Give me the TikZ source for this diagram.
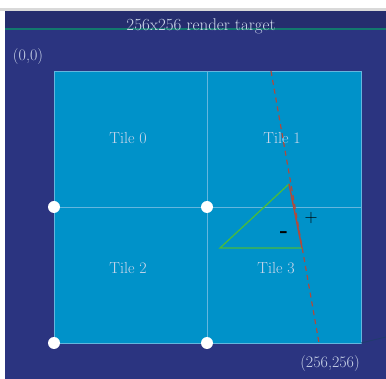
\documentclass[tikz,border=0pt]{standalone}
\usepackage{xcolor}
\definecolor{bgdark}{RGB}{43,52,128}
\definecolor{bgtop}{RGB}{37,45,110}
\definecolor{tileblue}{RGB}{0,146,201}
\definecolor{gridline}{RGB}{100,182,222}
\definecolor{tealline}{RGB}{18,120,110}
\definecolor{labeltext}{RGB}{205,215,235}
\definecolor{edgered}{RGB}{176,74,60}
\definecolor{trigreen}{RGB}{72,186,62}
\usepackage{tikz}
\usetikzlibrary{arrows.meta, positioning, calc}

\begin{document}
\begin{tikzpicture}[x=1pt, y=-1pt,
    corner/.style={circle, fill=white, inner sep=0pt, minimum size=12pt},
    tilelabel/.style={text=labeltext, font=\fontsize{16}{18}\selectfont},
    signlabel/.style={text=black, font=\fontsize{18}{20}\selectfont}]
    \useasboundingbox (0,0) rectangle (386,379);
    \fill[white] (0,0) rectangle (386,379);
    \fill[gray!30] (0,8) rectangle (386,11);
    \fill[bgdark] (5,11) rectangle (386,379);
    \fill[bgtop] (5,11) rectangle (386,29);
    % render target header
    \draw[tealline, line width=2pt] (5,29) -- (386,29);
    \node[tilelabel, font=\fontsize{17}{19}\selectfont] (title) at (201,26) {256x256 render target};
    \node[tilelabel] (origin) at (28,57) {(0,0)};
    \node[tilelabel] (extent) at (330,364) {(256,256)};
    % tiles
    \draw[gridline, fill=tileblue, line width=0.8pt] (54,71) rectangle (361,343);
    \draw[gridline, line width=0.8pt] (207,71) -- (207,343);
    \draw[gridline, line width=0.8pt] (54,207) -- (361,207);
    \draw[bgtop!80!tealline, line width=0.8pt] (361,343) -- (386,337);
    \node[tilelabel] (tile0) at (128,138) {Tile 0};
    \node[tilelabel] (tile1) at (282,138) {Tile 1};
    \node[tilelabel] (tile2) at (128,268) {Tile 2};
    \node[tilelabel] (tile3) at (276,268) {Tile 3};
    \node[corner] (c1) at (54,207) {};
    \node[corner] (c2) at (207,207) {};
    \node[corner] (c3) at (54,343) {};
    \node[corner] (c4) at (207,343) {};
    % triangle and its edge function
    \coordinate (edgetop) at (271,71);
    \coordinate (edgebot) at (319,343);
    \coordinate (va) at (289,184);
    \coordinate (vb) at (220,248);
    \coordinate (vc) at (302,248);
    \draw[edgered, line width=1.2pt, dash pattern=on 5pt off 4pt] (edgetop) -- (edgebot);
    \draw[trigreen, line width=1.3pt] (va) -- (vb) -- (vc);
    \draw[edgered, line width=1.5pt] (va) -- (vc);
    \node[signlabel] (plus) at (311,218) {+};
    \node[signlabel, font=\fontsize{22}{24}\bfseries] (minus) at (284,235) {-};
\end{tikzpicture}
\end{document}
